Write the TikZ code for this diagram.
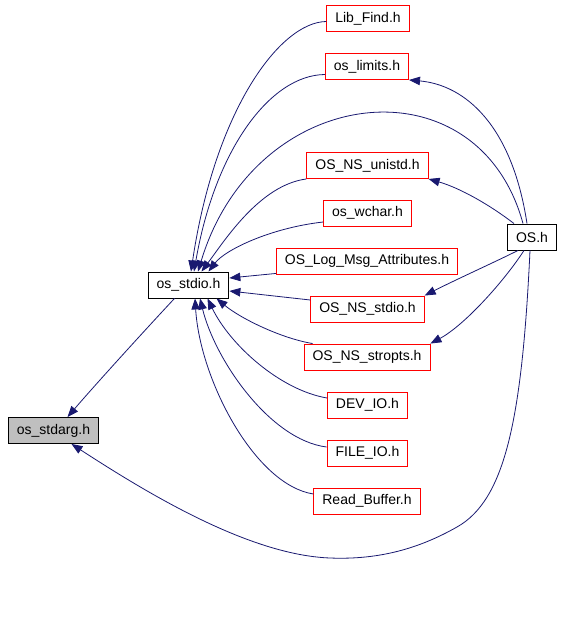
\documentclass[tikz,border=0pt]{standalone}
\usepackage{fontspec}
\setmainfont{Liberation Sans}
\usepackage{tikz}
\usetikzlibrary{arrows.meta,positioning,calc}
\usepackage{xcolor}
\definecolor{navy}{HTML}{191970}
\definecolor{hdrred}{HTML}{FF0000}
\definecolor{hdrgray}{HTML}{BFBFBF}
\tikzset{
  hdr/.style={draw=black,fill=white,line width=0.9pt,minimum height=26pt,inner xsep=8.5pt,inner ysep=0pt,font=\fontsize{14}{16}\selectfont},
  redhdr/.style={hdr,draw=hdrred},
  arr/.style={-{Triangle[length=11pt,width=8.5pt,fill=navy]},line width=0.8pt,draw=navy}
}

\begin{document}
\begin{tikzpicture}[x=1pt,y=-1pt]
        \useasboundingbox (0,0) rectangle (563,619);
        \node[hdr] (os) at (532,237) {OS.h};
        \node[hdr] (stdio) at (188.5,285) {os\_stdio.h};
        \node[hdr,fill=hdrgray] (stdarg) at (53.5,430.5) {os\_stdarg.h};
        \node[redhdr] (libfind) at (368,18.5) {Lib\_Find.h};
        \node[redhdr] (limits) at (367,66.5) {os\_limits.h};
        \node[redhdr] (unistd) at (367.5,165.5) {OS\_NS\_unistd.h};
        \node[redhdr] (wchar) at (367.5,213) {os\_wchar.h};
        \node[redhdr] (logmsg) at (367,261) {OS\_Log\_Msg\_Attributes.h};
        \node[redhdr] (nsstdio) at (367.5,309) {OS\_NS\_stdio.h};
        \node[redhdr] (stropts) at (367,357) {OS\_NS\_stropts.h};
        \node[redhdr] (devio) at (367.5,405) {DEV\_IO.h};
        \node[redhdr] (fileio) at (367.5,453) {FILE\_IO.h};
        \node[redhdr] (readbuf) at (367,501) {Read\_Buffer.h};
        % headers pulled in by os_stdio.h
        \draw[arr] ([yshift=-3pt]libfind.west) .. controls (280,22) and (215,110) .. ([xshift=2.5pt]stdio.north);
        \draw[arr] ([yshift=-8pt]limits.west) .. controls (270,75) and (215,150) .. ([xshift=5.5pt]stdio.north);
        \draw[arr] ([xshift=-9pt]os.north) .. controls (478,58) and (255,82) .. ([xshift=9.5pt]stdio.north);
        \draw[arr] (unistd.south west) .. controls (260,185) and (225,240) .. ([xshift=13pt]stdio.north);
        \draw[arr] ([yshift=-9pt]wchar.west) .. controls (270,228) and (225,250) .. ([xshift=20pt]stdio.north);
        \draw[arr] ([yshift=1pt]logmsg.south west) -- ([yshift=7pt]stdio.east);
        \draw[arr] ([yshift=9pt]nsstdio.west) -- ([yshift=-6pt]stdio.east);
        \draw[arr] ([xshift=9pt]stropts.north west) .. controls (280,338) and (240,318) .. ([xshift=28pt]stdio.south);
        \draw[arr] ([yshift=7pt]devio.west) .. controls (280,390) and (230,345) .. ([xshift=19pt]stdio.south);
        \draw[arr] ([yshift=6pt]fileio.west) .. controls (270,440) and (215,360) .. ([xshift=11.5pt]stdio.south);
        \draw[arr] ([yshift=7pt]readbuf.west) .. controls (255,485) and (200,380) .. ([xshift=6.5pt]stdio.south);
        \draw[arr] ([xshift=-14pt]stdio.south) .. controls (145,330) and (95,385) .. ([xshift=14pt]stdarg.north);
        % headers pulled in by OS.h
        \draw[arr] ([xshift=-5pt]os.north) .. controls (512,125) and (465,85) .. (limits.south east);
        \draw[arr] ([xshift=-18pt]os.north) .. controls (490,205) and (460,188) .. (unistd.south east);
        \draw[arr] ([xshift=-14pt]os.south) .. controls (495,262) and (455,280) .. (nsstdio.north east);
        \draw[arr] ([xshift=-8pt]os.south) .. controls (505,280) and (465,325) .. (stropts.north east);
        \draw[arr] ([xshift=-2pt]os.south) .. controls (522,420) and (505,500) .. (457,527)
          .. controls (420,548) and (380,560) .. (330,558)
          .. controls (250,555) and (150,495) .. ([xshift=18pt]stdarg.south);
      \end{tikzpicture}
\end{document}
